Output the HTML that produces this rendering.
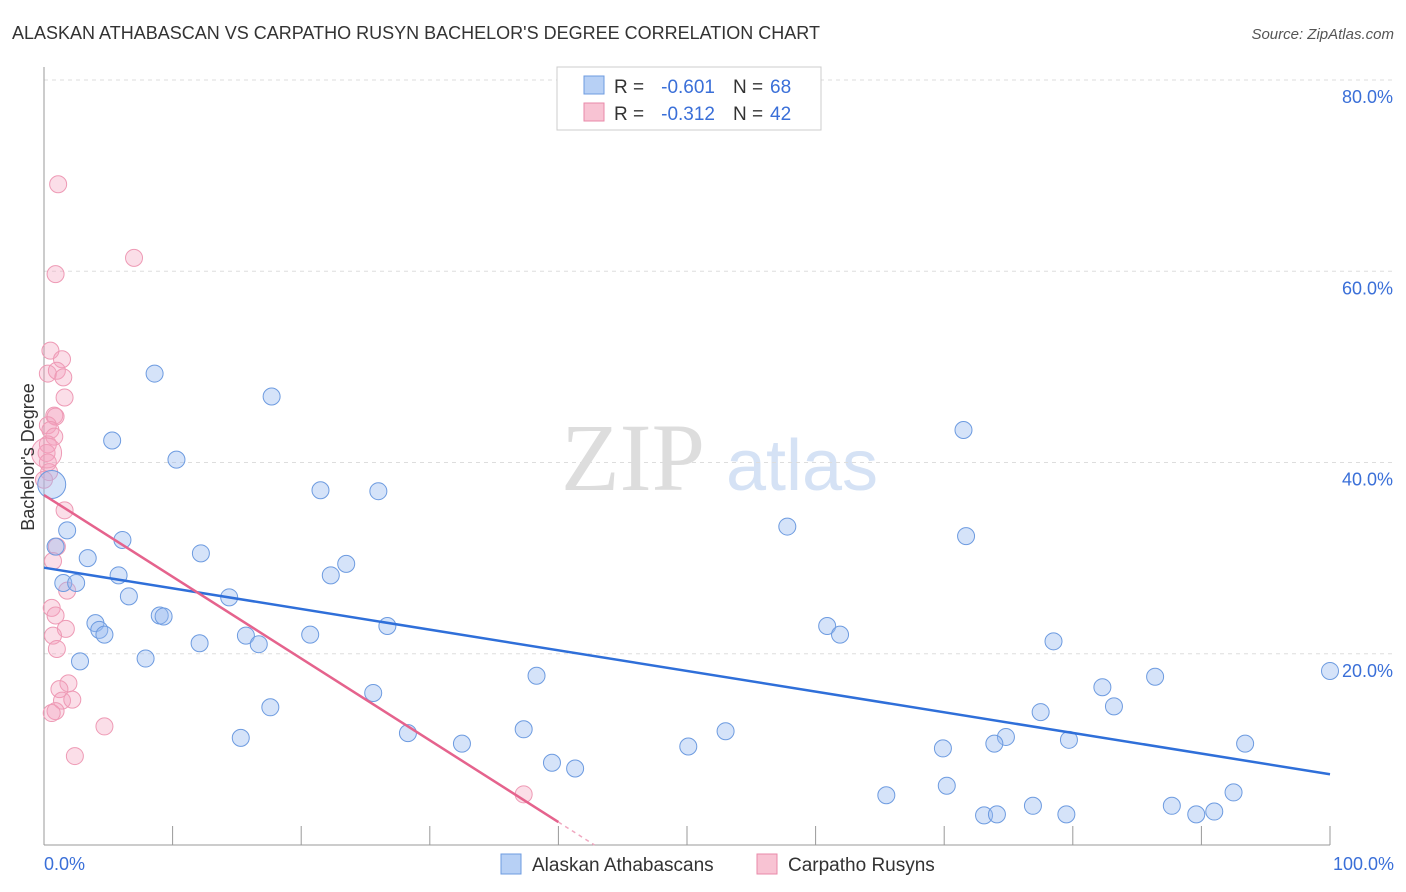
<!DOCTYPE html>
<html><head><meta charset="utf-8"><style>
body{margin:0;background:#fff;font-family:"Liberation Sans",sans-serif}
svg{display:block}
</style></head><body>
<svg id="chart" width="1406" height="892" xmlns="http://www.w3.org/2000/svg">
<text x="12" y="39" font-size="18" fill="#333">ALASKAN ATHABASCAN VS CARPATHO RUSYN BACHELOR'S DEGREE CORRELATION CHART</text>
<text x="1394" y="39" font-size="15" fill="#555" text-anchor="end" font-style="italic">Source: ZipAtlas.com</text>
<g>
<text x="633" y="490" font-size="96" fill="#ddd" text-anchor="middle" font-family="Liberation Serif, serif">ZIP</text>
<text x="802" y="490" font-size="72" fill="#d5e2f5" text-anchor="middle">atlas</text>
</g>
<g id="grid"></g>
<g id="axes"></g>
<g id="pts"></g>
<g id="lines"></g>
<g>
<rect x="557" y="67" width="264" height="63" fill="#fff" stroke="#ccc"/>
<rect x="584" y="76" width="20" height="18" fill="#b7d0f5" stroke="#6d9be0"/>
<text x="614" y="93" font-size="19" fill="#333">R =</text>
<text x="715" y="93" font-size="19" fill="#3a6fd8" text-anchor="end">-0.601</text>
<text x="733" y="93" font-size="19" fill="#333">N =</text>
<text x="770" y="93" font-size="19" fill="#3a6fd8">68</text>
<rect x="584" y="103" width="20" height="18" fill="#f8c3d3" stroke="#e98aa8"/>
<text x="614" y="120" font-size="19" fill="#333">R =</text>
<text x="715" y="120" font-size="19" fill="#3a6fd8" text-anchor="end">-0.312</text>
<text x="733" y="120" font-size="19" fill="#333">N =</text>
<text x="770" y="120" font-size="19" fill="#3a6fd8">42</text>
</g>
<g>
<rect x="501" y="854" width="20" height="20" fill="#b7d0f5" stroke="#6d9be0"/>
<text x="532" y="871" font-size="19" fill="#333">Alaskan Athabascans</text>
<rect x="757" y="854" width="20" height="20" fill="#f8c3d3" stroke="#e98aa8"/>
<text x="788" y="871" font-size="19" fill="#333">Carpatho Rusyns</text>
</g>
<text transform="translate(34,457) rotate(-90)" font-size="18" fill="#333" text-anchor="middle">Bachelor's Degree</text>
</svg>
<script>
const yTicks=[20,40,60,80];
const yTickLabels=["20.0%","40.0%","60.0%","80.0%"];
const xTicks=[0,10,20,30,40,50,60,70,80,90,100];
const blueX=[8.6,17.7,5.3,10.3,71.5,21.5,26.0,0.6,1.8,6.1,0.9,3.4,12.2,57.8,71.7,23.5,22.3,5.8,1.5,2.5,6.6,14.4,9.0,9.3,4.0,4.3,4.7,26.7,15.7,20.7,60.9,61.9,12.1,16.7,78.5,2.8,7.9,38.3,100,86.4,82.3,25.6,17.6,83.2,77.5,37.3,53.0,15.3,28.3,32.5,50.1,69.9,74.8,73.9,79.7,93.4,39.5,41.3,65.5,70.2,76.9,73.1,74.1,79.5,87.7,89.6,91.0,92.5];
const blueY=[49.3,46.9,42.3,40.3,43.4,37.1,37.0,37.7,32.9,31.9,31.2,30.0,30.5,33.3,32.3,29.4,28.2,28.2,27.4,27.4,26.0,25.9,24.0,23.9,23.2,22.5,22.0,22.9,21.9,22.0,22.9,22.0,21.1,21.0,21.3,19.2,19.5,17.7,18.2,17.6,16.5,15.9,14.4,14.5,13.9,12.1,11.9,11.2,11.7,10.6,10.3,10.1,11.3,10.6,11.0,10.6,8.6,8.0,5.2,6.2,4.1,3.1,3.2,3.2,4.1,3.2,3.5,5.5];
const pinkX=[1.1,7.0,0.9,0.5,1.4,0.3,1.0,1.5,1.6,0.8,0.9,0.3,0.5,0.8,0.3,0.2,0.3,0.4,0.0,1.6,1.0,0.7,1.8,0.6,0.9,1.7,0.7,1.0,1.9,1.2,1.4,2.2,0.9,0.6,4.7,2.4,37.3];
const pinkY=[69.1,61.4,59.7,51.7,50.8,49.3,49.6,48.9,46.8,44.9,44.8,43.9,43.4,42.7,41.9,41.0,40.0,39.0,38.2,35.0,31.2,29.7,26.6,24.8,24.0,22.6,21.9,20.5,16.9,16.3,15.1,15.2,14.0,13.8,12.4,9.3,5.3];
const blueTrend=[29.0,7.4];
const pinkTrend=[36.6,2.4];
const ns="http://www.w3.org/2000/svg";
const L=44,R=1330,B=845,T=80;
const sx=v=>L+(R-L)*v/100;
const sy=v=>B-(B-T)*v/80;
function mk(tag,attrs,parent){const e=document.createElementNS(ns,tag);for(const k in attrs)e.setAttribute(k,attrs[k]);parent.appendChild(e);return e;}
const grid=document.getElementById('grid'),axes=document.getElementById('axes'),pts=document.getElementById('pts'),lines=document.getElementById('lines');
yTicks.forEach((t,i)=>{
 const g=mk('line',{x1:L,x2:1394,y1:sy(t),y2:sy(t),stroke:'#ddd','stroke-dasharray':'4,4'},grid);
 
 
 const tx=mk('text',{x:1393,y:sy(t)+23,'font-size':18,fill:'#3a6fd8','text-anchor':'end'},axes);
 tx.textContent=yTickLabels[i];
 
 
});
const ax=mk('line',{x1:L,x2:L,y1:67,y2:B,stroke:'#999'},axes);


const bx=mk('line',{x1:L,x2:R,y1:B,y2:B,stroke:'#999'},axes);


xTicks.forEach(t=>{
 const tk=mk('line',{x1:sx(t),x2:sx(t),y1:B,y2:t==0?B:826,stroke:'#999'},axes);
 
 
});
[[0,'0.0%','start',44],[100,'100.0%','end',1394]].forEach(([v,s,a,x])=>{
 const tx=mk('text',{x:x,y:870,'font-size':18,fill:'#3a6fd8','text-anchor':a},axes);
 tx.textContent=s;
 
 
});
pinkX.forEach((x,i)=>{
 const c=mk('circle',{cx:sx(x),cy:sy(pinkY[i]),r:8.5,fill:'rgba(244,160,188,0.35)',stroke:'#ee9ab5','stroke-width':1},pts);
 
 
});
const bigP=mk('circle',{cx:sx(0.2),cy:sy(41),r:15,fill:'rgba(244,160,188,0.3)',stroke:'#ee9ab5'},pts);


blueX.forEach((x,i)=>{
 const r=i==7?14:8.5;
 const c=mk('circle',{cx:sx(x),cy:sy(blueY[i]),r:r,fill:'rgba(150,186,240,0.4)',stroke:'#6d9be0','stroke-width':1},pts);
 
 
});
const bl=mk('line',{x1:sx(0),y1:sy(blueTrend[0]),x2:sx(100),y2:sy(blueTrend[1]),stroke:'#2f6fd9','stroke-width':2.5},lines);


const slope=(pinkTrend[1]-pinkTrend[0])/40;
const pl=mk('line',{x1:sx(0),y1:sy(pinkTrend[0]),x2:sx(40),y2:sy(pinkTrend[1]),stroke:'#e5638d','stroke-width':2.5},lines);


const xe=-pinkTrend[0]/slope;
const pd=mk('line',{x1:sx(40),y1:sy(pinkTrend[1]),x2:sx(xe),y2:sy(0),stroke:'#f0a8c0','stroke-width':1.5,'stroke-dasharray':'4,4'},lines);


</script>
</body></html>
